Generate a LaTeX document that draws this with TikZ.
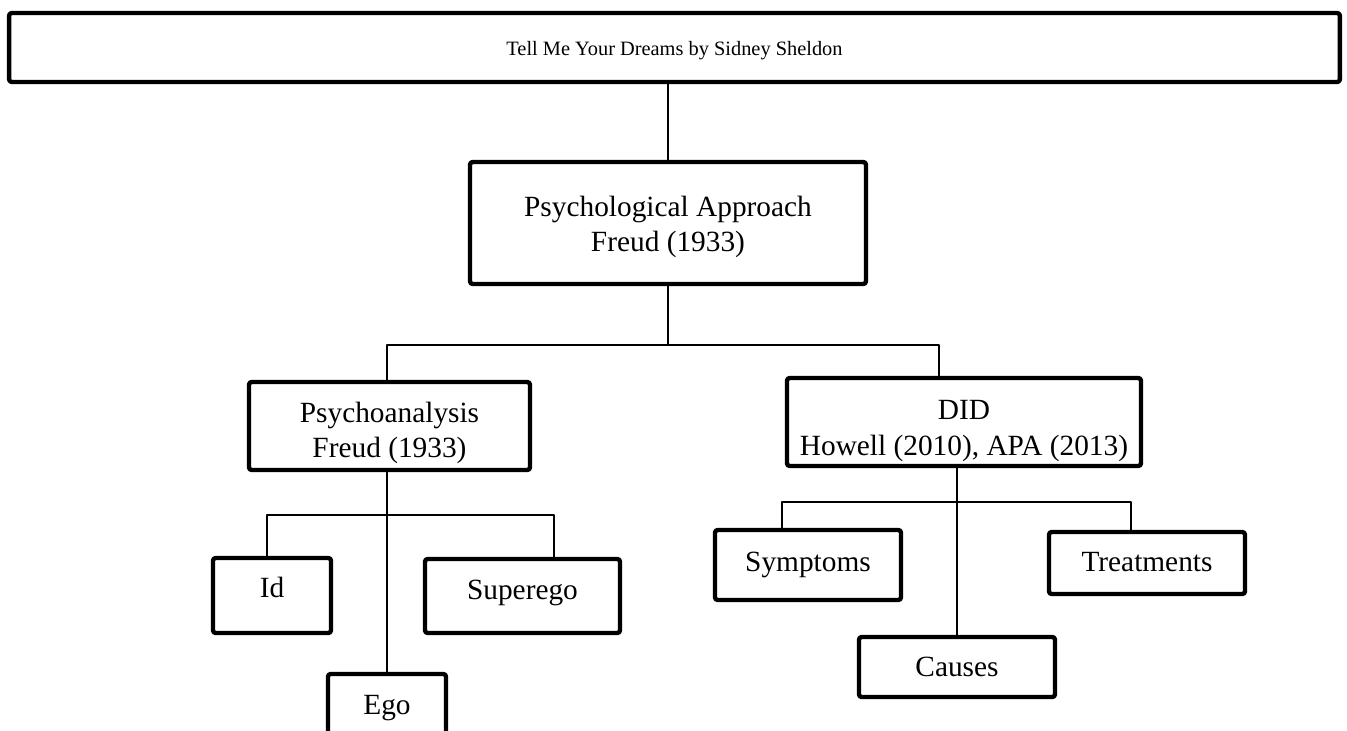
\documentclass[tikz,border=0pt]{standalone}
\usepackage{fontspec}
\setmainfont{Liberation Serif}
\begin{document}
\begin{tikzpicture}[x=0.02cm,y=-0.02cm,font=\fontsize{16.7}{20}\selectfont,line join=round,
	box/.style={draw,line width=2.5pt,rounded corners=1.5pt,align=center,inner sep=0pt},
	onebox/.style={box,text depth=0.09cm},
	tall/.style={text height=#1},
	link/.style={line width=1.1pt}]
	\useasboundingbox (0,0) rectangle (1347,731);
	\clip (0,0) rectangle (1347,731);
	% top levels
	\path (674.5,47.5)node[box,font=\fontsize{11.6}{14}\selectfont,text depth=0.25em,tall=0.39cm,minimum width=26.62cm,minimum height=1.38cm](title){Tell Me Your Dreams by Sidney Sheldon}
	(668,223)node[box,tall=1.28cm,minimum width=7.92cm,minimum height=2.44cm](psych){Psychological Approach\\Freud (1933)}
	(389.5,426)node[box,tall=1.4cm,minimum width=5.62cm,minimum height=1.76cm](psa){Psychoanalysis\\Freud (1933)}
	(964,422)node[box,tall=1.45cm,minimum width=7.08cm,minimum height=1.76cm](did){DID\\Howell (2010), APA (2013)};
	% left branch
	\path (272,595.5)node[onebox,tall=0.18cm,minimum width=2.36cm,minimum height=1.5cm](id){Id}
	(522.5,596)node[onebox,tall=0.24cm,minimum width=3.9cm,minimum height=1.48cm](superego){Superego}
	(387,711.5)node[onebox,tall=0.22cm,minimum width=2.36cm,minimum height=1.5cm](ego){Ego};
	% right branch
	\path (808,565)node[onebox,tall=0.36cm,minimum width=3.72cm,minimum height=1.4cm](symptoms){Symptoms}
	(1147,563)node[onebox,tall=0.44cm,minimum width=3.92cm,minimum height=1.24cm](treatments){Treatments}
	(957,667)node[onebox,tall=0.48cm,minimum width=3.92cm,minimum height=1.2cm](causes){Causes};
	% bus points
	\coordinate (pl) at (387,345);
	\coordinate (pr) at (939,345);
	\coordinate (ql) at (267,515);
	\coordinate (qr) at (554,515);
	\coordinate (rl) at (782,502);
	\coordinate (rr) at (1131,502);
	% connectors
	\draw[link](psych.north|-title.south)--(psych.north);
	\draw[link](psych.south)--(psych.south|-pl);
	\draw[link](pl|-psa.north)--(pl)--(pr)--(pr|-did.north);
	\draw[link](ego.north|-psa.south)--(ego.north);
	\draw[link](ql|-id.north)--(ql)--(qr)--(qr|-superego.north);
	\draw[link](causes.north|-did.south)--(causes.north);
	\draw[link](rl|-symptoms.north)--(rl)--(rr)--(rr|-treatments.north);
\end{tikzpicture}
\end{document}
